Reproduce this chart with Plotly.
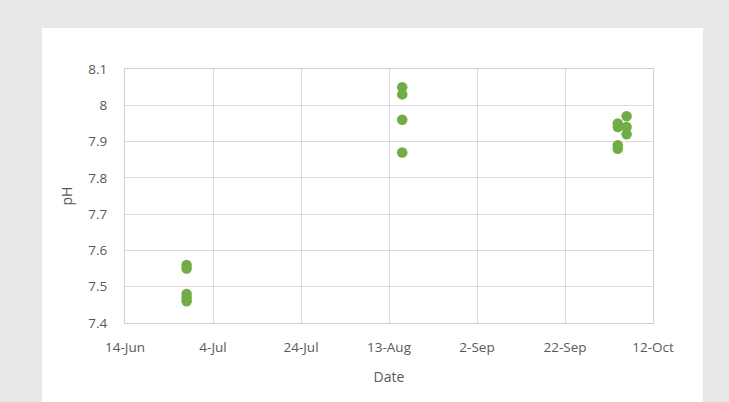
import plotly.graph_objects as go

dates = ["2016-06-28"] * 5 + ["2016-08-16"] * 4 + ["2016-10-04"] * 4 + ["2016-10-06"] * 3
ph = [7.56, 7.55, 7.48, 7.47, 7.46,
      8.05, 8.03, 7.96, 7.87,
      7.95, 7.94, 7.89, 7.88,
      7.97, 7.94, 7.92]
x_ticks = ["2016-06-14", "2016-07-04", "2016-07-24", "2016-08-13", "2016-09-02", "2016-09-22", "2016-10-12"]
x_labels = ["14-Jun", "4-Jul", "24-Jul", "13-Aug", "2-Sep", "22-Sep", "12-Oct"]
y_ticks = [7.4, 7.5, 7.6, 7.7, 7.8, 7.9, 8.0, 8.1]
y_labels = ["7.4", "7.5", "7.6", "7.7", "7.8", "7.9", "8", "8.1"]

L, R, T, B = 125, 76, 69, 79
W, H = 729, 402
pw, ph_ = W - L - R, H - T - B

fig = go.Figure()
fig.add_trace(go.Scatter(
    x=dates, y=ph, mode="markers",
    marker=dict(color="#70ad47", size=10.5),
    showlegend=False,
))

font = dict(family="Open Sans, sans-serif", size=13.5, color="#595959")
fig.update_layout(
    width=W, height=H,
    margin=dict(l=L, r=R, t=T, b=B),
    paper_bgcolor="#e8e8e8",
    plot_bgcolor="white",
    font=font,
    xaxis=dict(
        range=["2016-06-14", "2016-10-12"],
        tickvals=x_ticks, ticktext=x_labels,
        showgrid=True, gridcolor="#d9d9d9", gridwidth=1,
        showline=True, linecolor="#d0d0d0", linewidth=1, mirror=True,
        zeroline=False, ticks="outside", ticklen=12, tickcolor="rgba(0,0,0,0)",
        title=dict(text="Date", font=dict(size=14, color="#595959"), standoff=16),
        tickfont=font,
    ),
    yaxis=dict(
        range=[7.4, 8.1],
        tickvals=y_ticks, ticktext=y_labels,
        showgrid=True, gridcolor="#d9d9d9", gridwidth=1,
        showline=True, linecolor="#d0d0d0", linewidth=1, mirror=True,
        zeroline=False, ticks="outside", ticklen=14, tickcolor="rgba(0,0,0,0)",
        title=dict(text="pH", font=dict(size=14, color="#595959"), standoff=12),
        tickfont=font,
    ),
    shapes=[dict(
        type="rect", xref="paper", yref="paper", layer="below",
        x0=(42 - L) / pw, x1=(703 - L) / pw,
        y0=(H - B - 402) / ph_ - 0.05, y1=(H - B - 28) / ph_,
        fillcolor="white", line=dict(width=0),
    )],
)

fig.write_html("out.html", config={"displayModeBar": False},
               post_script="document.body.style.margin='0';document.body.style.overflow='hidden';")
